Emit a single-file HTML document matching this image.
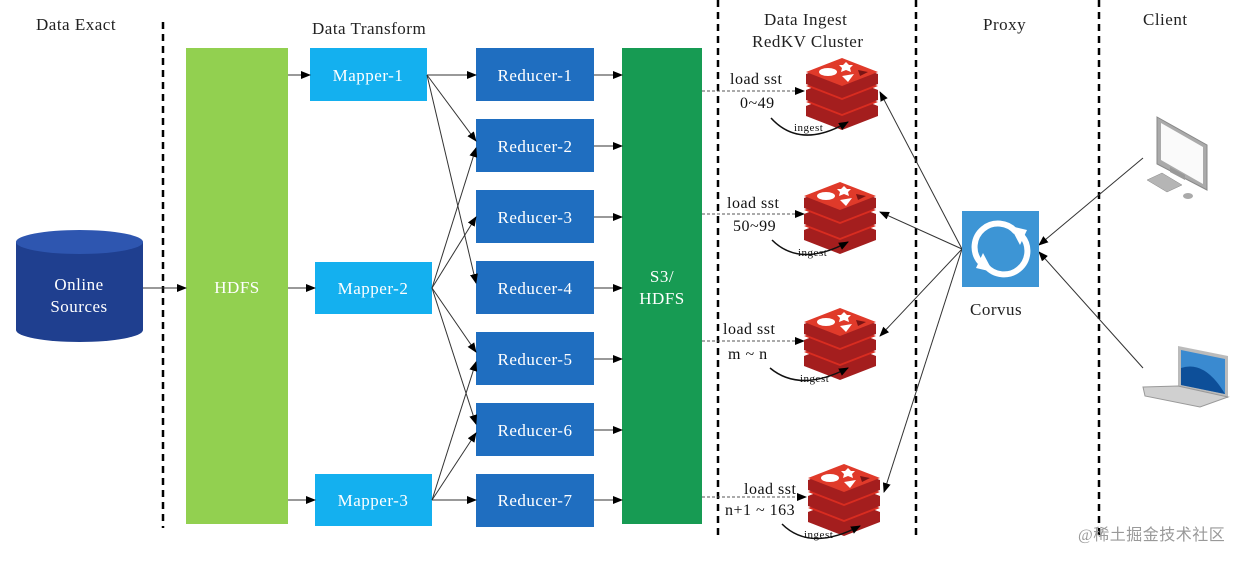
<!DOCTYPE html>
<html><head><meta charset="utf-8"><style>body{margin:0;background:#fff}svg{display:block}text{font-family:"Liberation Serif",serif;letter-spacing:0.5px}</style></head><body>
<svg width="1254" height="561" viewBox="0 0 1254 561" xmlns="http://www.w3.org/2000/svg">
<defs>
<marker id="a" markerWidth="10" markerHeight="8" refX="9" refY="4" orient="auto" markerUnits="userSpaceOnUse"><path d="M0,0 L10,4 L0,8 z" fill="#000"/></marker>
<g id="redis">
<path d="M0,44 L36,30 L72,44 L72,54 L36,68 L0,54 z" fill="#a41e1e"/>
<path d="M0,40 L36,26 L72,40 L36,54 z" fill="#d82c20"/>
<path d="M0,28 L36,14 L72,28 L72,38 L36,52 L0,38 z" fill="#a41e1e"/>
<path d="M0,24 L36,10 L72,24 L36,38 z" fill="#d82c20"/>
<path d="M0,12 L36,-2 L72,12 L72,22 L36,36 L0,22 z" fill="#a41e1e"/>
<path d="M0,10 L36,-4 L72,10 L36,24 z" fill="#e03a2a"/>
<ellipse cx="22" cy="10" rx="9" ry="4" fill="#fff"/>
<path d="M40,0 l3,3 4,0 -3,3 1,4 -5,-2 -5,2 1,-4 -3,-3 4,0z" fill="#fff"/>
<path d="M36,14 L48,12 L42,20 z" fill="#fff"/>
<path d="M52,8 L62,10 L54,14 z" fill="#7a1414"/>
</g>
</defs>
<g stroke="#000" stroke-width="2.5" stroke-dasharray="7,5">
<line x1="163" y1="22" x2="163" y2="528"/>
<line x1="718" y1="0" x2="718" y2="540"/>
<line x1="916" y1="0" x2="916" y2="540"/>
<line x1="1099" y1="0" x2="1099" y2="540"/>
</g>
<g font-size="17" fill="#222">
<text x="36" y="30">Data Exact</text>
<text x="312" y="34">Data Transform</text>
<text x="764" y="25">Data Ingest</text>
<text x="752" y="47">RedKV Cluster</text>
<text x="983" y="30">Proxy</text>
<text x="1143" y="25">Client</text>
</g>
<path d="M16,242 L16,330 A63.5,12 0 0 0 143,330 L143,242 z" fill="#1f3f8f"/>
<ellipse cx="79.5" cy="242" rx="63.5" ry="12" fill="#2e56b0"/>
<text x="79" y="290" font-size="17" fill="#fff" text-anchor="middle">Online</text>
<text x="79" y="312" font-size="17" fill="#fff" text-anchor="middle">Sources</text>
<rect x="186" y="48" width="102" height="476" fill="#92d050"/>
<text x="237" y="293" font-size="17" fill="#fff" text-anchor="middle">HDFS</text>
<rect x="622" y="48" width="80" height="476" fill="#179b53"/>
<text x="662" y="282" font-size="17" fill="#fff" text-anchor="middle">S3/</text>
<text x="662" y="304" font-size="17" fill="#fff" text-anchor="middle">HDFS</text>
<g fill="#14b0ef">
<rect x="310" y="48" width="117" height="53"/>
<rect x="315" y="262" width="117" height="52"/>
<rect x="315" y="474" width="117" height="52"/>
</g>
<g font-size="17" fill="#fff" text-anchor="middle">
<text x="368" y="81">Mapper-1</text>
<text x="373" y="294">Mapper-2</text>
<text x="373" y="506">Mapper-3</text>
</g>
<g fill="#1f6ec0">
<rect x="476" y="48" width="118" height="53"/><rect x="476" y="119" width="118" height="53"/><rect x="476" y="190" width="118" height="53"/><rect x="476" y="261" width="118" height="53"/><rect x="476" y="332" width="118" height="53"/><rect x="476" y="403" width="118" height="53"/><rect x="476" y="474" width="118" height="53"/>
</g>
<g font-size="17" fill="#fff" text-anchor="middle">
<text x="535" y="81">Reducer-1</text><text x="535" y="152">Reducer-2</text><text x="535" y="223">Reducer-3</text><text x="535" y="294">Reducer-4</text><text x="535" y="365">Reducer-5</text><text x="535" y="436">Reducer-6</text><text x="535" y="506">Reducer-7</text>
</g>
<g stroke="#333" stroke-width="1" marker-end="url(#a)">
<line x1="143" y1="288" x2="186" y2="288"/>
<line x1="288" y1="75" x2="310" y2="75"/>
<line x1="288" y1="288" x2="315" y2="288"/>
<line x1="288" y1="500" x2="315" y2="500"/>
<line x1="427" y1="75" x2="476" y2="75"/>
<line x1="427" y1="75" x2="476" y2="141"/>
<line x1="427" y1="75" x2="476" y2="283"/>
<line x1="432" y1="288" x2="476" y2="148"/>
<line x1="432" y1="288" x2="476" y2="217"/>
<line x1="432" y1="288" x2="476" y2="352"/>
<line x1="432" y1="288" x2="476" y2="424"/>
<line x1="432" y1="500" x2="476" y2="362"/>
<line x1="432" y1="500" x2="476" y2="433"/>
<line x1="432" y1="500" x2="476" y2="500"/>
<line x1="594" y1="75" x2="622" y2="75"/><line x1="594" y1="146" x2="622" y2="146"/><line x1="594" y1="217" x2="622" y2="217"/><line x1="594" y1="288" x2="622" y2="288"/><line x1="594" y1="359" x2="622" y2="359"/><line x1="594" y1="430" x2="622" y2="430"/><line x1="594" y1="500" x2="622" y2="500"/>
</g>
<g stroke="#555" stroke-width="1" stroke-dasharray="3,2" marker-end="url(#a)">
<line x1="702" y1="91" x2="804" y2="91"/>
<line x1="702" y1="214" x2="804" y2="214"/>
<line x1="702" y1="341" x2="804" y2="341"/>
<line x1="702" y1="497" x2="806" y2="497"/>
</g>
<use href="#redis" x="806" y="62"/>
<use href="#redis" x="804" y="186"/>
<use href="#redis" x="804" y="312"/>
<use href="#redis" x="808" y="468"/>
<g font-size="16" fill="#111">
<text x="730" y="84">load sst</text><text x="740" y="108">0~49</text>
<text x="727" y="208">load sst</text><text x="733" y="231">50~99</text>
<text x="723" y="334">load sst</text><text x="728" y="359">m ~ n</text>
<text x="744" y="494">load sst</text><text x="725" y="515">n+1 ~ 163</text>
</g>
<g fill="none" stroke="#111" stroke-width="1.5" marker-end="url(#a)">
<path d="M771,118 Q800,150 848,122"/>
<path d="M772,240 Q800,268 848,242"/>
<path d="M770,368 Q800,393 848,368"/>
<path d="M782,524 Q810,552 860,526"/>
</g>
<g font-size="11" fill="#111">
<text x="794" y="131">ingest</text><text x="798" y="256">ingest</text><text x="800" y="382">ingest</text><text x="804" y="538">ingest</text>
</g>
<g stroke="#333" stroke-width="1" marker-end="url(#a)">
<line x1="962" y1="249" x2="880" y2="92"/>
<line x1="962" y1="249" x2="880" y2="212"/>
<line x1="962" y1="249" x2="880" y2="336"/>
<line x1="962" y1="249" x2="884" y2="492"/>
<line x1="1143" y1="158" x2="1039" y2="245"/>
<line x1="1143" y1="368" x2="1039" y2="252"/>
</g>
<rect x="962" y="211" width="77" height="76" fill="#3d95d5"/>
<g fill="none" stroke="#fff" stroke-width="6">
<path d="M980,262 A22,22 0 0 1 1016,232"/>
<path d="M1022,236 A22,22 0 0 1 986,266"/>
</g>
<path d="M1010,226 L1027,230 L1020,245 z" fill="#fff"/>
<path d="M993,272 L976,268 L983,253 z" fill="#fff"/>
<text x="970" y="315" font-size="17" fill="#222">Corvus</text>
<!-- monitor -->
<path d="M1157,117 L1207,145 L1207,190 L1157,164 z" fill="#aaa" stroke="#888"/>
<path d="M1161,123 L1203,147 L1203,184 L1161,160 z" fill="#fafafa"/>
<path d="M1170,167 L1185,175 L1185,180 L1170,172 z" fill="#999"/>
<path d="M1147,180 L1162,173 L1182,185 L1167,192 z" fill="#b5b5b5" stroke="#888" stroke-width="0.5"/>
<ellipse cx="1188" cy="196" rx="5" ry="3" fill="#aaa"/>
<!-- laptop -->
<path d="M1178,346 L1228,356 L1228,398 L1178,388 z" fill="#bbb"/>
<path d="M1181,350 L1225,359 L1225,394 L1181,385 z" fill="#3a8ad0"/>
<path d="M1181,368 Q1205,360 1225,394 L1181,385z" fill="#0d4f99"/>
<path d="M1143,387 L1178,386 L1228,397 L1200,407 L1145,396z" fill="#d0d0d0" stroke="#999"/>
<text x="1078" y="540" font-size="16" fill="#999" font-family="'Liberation Sans','Noto Sans CJK SC',sans-serif">@稀土掘金技术社区</text>
</svg>
</body></html>
